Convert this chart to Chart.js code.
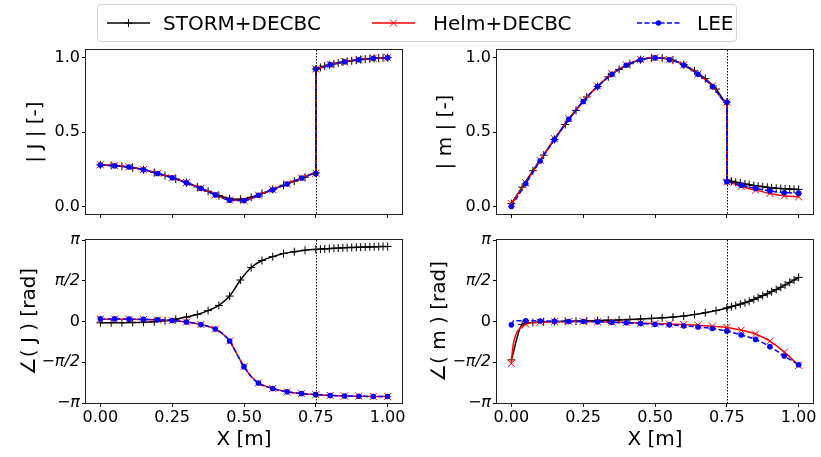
<!DOCTYPE html>
<html>
<head>
<meta charset="utf-8">
<script src="https://cdn.jsdelivr.net/npm/chart.js@4.4.1/dist/chart.umd.min.js"></script>
<style>
  body { margin: 0; background: #fff; width: 821px; height: 457px; position: relative; overflow: hidden; font-family: 'DejaVu Sans', sans-serif; }
  canvas { position: absolute; }
  #legendBox { position: absolute; left: 97px; top: 4px; width: 640px; height: 38px; box-sizing: border-box;
    border: 1px solid #d4d4d4; border-radius: 4px; background: rgba(255,255,255,0.8); }
  #legendHandles { position: absolute; left: 0; top: 0; }
  .legendText { position: absolute; top: 4px; height: 38px; line-height: 38px; font-size: 20px; color: #000; white-space: nowrap; }
</style>
</head>
<body>
<canvas id="magJ" width="410" height="188" style="left:0;top:38px"></canvas>
<canvas id="magM" width="411" height="188" style="left:410px;top:38px"></canvas>
<canvas id="phJ" width="410" height="229" style="left:0;top:228px"></canvas>
<canvas id="phM" width="411" height="229" style="left:410px;top:228px"></canvas>

<div id="legendBox"></div>
<svg id="legendHandles" width="821" height="46">
  <line x1="107" y1="23" x2="150" y2="23" stroke="#000" stroke-width="1.5"/>
  <path d="M128.5 19v8M124.5 23h8" stroke="#000" stroke-width="1"/>
  <line x1="372" y1="23" x2="415" y2="23" stroke="#f00" stroke-width="1.5"/>
  <path d="M390 19.5l7 7M397 19.5l-7 7" stroke="#f00" stroke-width="1"/>
  <line x1="637" y1="23" x2="680" y2="23" stroke="#00f" stroke-width="1.5" stroke-dasharray="5 2.5"/>
  <circle cx="658.5" cy="23" r="2.7" fill="#00f"/>
</svg>
<div class="legendText" style="left:163px">STORM+DECBC</div>
<div class="legendText" style="left:433px">Helm+DECBC</div>
<div class="legendText" style="left:697px">LEE</div>

<script>
// ---- axes ----
const xTicks = [0, 0.25, 0.5, 0.75, 1.0];
const xTickLabels = ['0.00', '0.25', '0.50', '0.75', '1.00'];
const magTicks = [0, 0.5, 1.0];
const magTickLabels = ['0.0', '0.5', '1.0'];
const phaseTicks = [-Math.PI, -Math.PI / 2, 0, Math.PI / 2, Math.PI];
const phaseTickLabels = ['\u2212\u03c0', '\u2212\u03c0/2', '0', '\u03c0/2', '\u03c0'];
const interfaceX = 0.75;

// ---- x positions ----
const xStorm = [0, 0.0375, 0.075, 0.1125, 0.15, 0.1875, 0.225, 0.2625, 0.3, 0.3375, 0.375, 0.4125, 0.45, 0.4875, 0.525, 0.5625, 0.6, 0.6375, 0.675, 0.7125, 0.75];
const xStormTail = [0.75, 0.766, 0.781, 0.797, 0.813, 0.828, 0.844, 0.859, 0.875, 0.891, 0.906, 0.922, 0.938, 0.953, 0.969, 0.984, 1.0];
const xCoarse = [0, 0.05, 0.1, 0.15, 0.2, 0.25, 0.3, 0.35, 0.4, 0.45, 0.5, 0.55, 0.6, 0.65, 0.7, 0.75];
const xCoarseTail = [0.75, 0.8, 0.85, 0.9, 0.95, 1.0];
const xPhaseJ = [0, 0.05, 0.1, 0.15, 0.2, 0.25, 0.3, 0.35, 0.4, 0.425, 0.45, 0.475, 0.5, 0.525, 0.55, 0.6, 0.65, 0.7, 0.75, 0.8, 0.85, 0.9, 0.95, 1.0];
const xPhaseMHelm = [0, 0.004, 0.01, 0.02, 0.03, 0.05, 0.1, 0.15, 0.2, 0.25, 0.3, 0.35, 0.4, 0.45, 0.5, 0.55, 0.6, 0.65, 0.7, 0.75, 0.8, 0.85, 0.9, 0.95, 1.0];
const xPhaseMLee = [0, 0.008, 0.05, 0.1, 0.15, 0.2, 0.25, 0.3, 0.35, 0.4, 0.45, 0.5, 0.55, 0.6, 0.65, 0.7, 0.75, 0.8, 0.85, 0.9, 0.95, 1.0];

// ---- |J| ----
const stormJmag = [0.280, 0.276, 0.270, 0.260, 0.247, 0.229, 0.208, 0.185, 0.160, 0.132, 0.103, 0.074, 0.053, 0.049, 0.062, 0.088, 0.115, 0.143, 0.170, 0.197, 0.225,
  0.922, 0.933, 0.942, 0.950, 0.957, 0.963, 0.969, 0.974, 0.978, 0.982, 0.986, 0.989, 0.992, 0.994, 0.996, 0.998, 0.999];
const helmJmag = [0.280, 0.275, 0.266, 0.248, 0.223, 0.194, 0.161, 0.123, 0.079, 0.044, 0.041, 0.077, 0.114, 0.152, 0.192, 0.223,
  0.923, 0.952, 0.972, 0.986, 0.995, 0.999];
const leeJmag = [0.278, 0.273, 0.265, 0.247, 0.222, 0.193, 0.160, 0.122, 0.078, 0.043, 0.040, 0.076, 0.113, 0.151, 0.191, 0.222,
  0.922, 0.951, 0.971, 0.985, 0.994, 0.998];

// ---- |m| ----
const stormMmag = [0.020, 0.130, 0.240, 0.345, 0.450, 0.550, 0.645, 0.735, 0.805, 0.870, 0.920, 0.958, 0.985, 0.997, 0.996, 0.982, 0.952, 0.910, 0.858, 0.788, 0.700,
  0.178, 0.170, 0.163, 0.157, 0.151, 0.146, 0.141, 0.137, 0.133, 0.129, 0.126, 0.123, 0.121, 0.119, 0.117, 0.116, 0.115];
const helmMmag = [0.020, 0.160, 0.310, 0.455, 0.590, 0.708, 0.808, 0.890, 0.950, 0.987, 0.998, 0.987, 0.950, 0.890, 0.808, 0.700,
  0.165, 0.135, 0.110, 0.088, 0.072, 0.065];
const leeMmag = [0.000, 0.155, 0.305, 0.450, 0.585, 0.705, 0.805, 0.887, 0.948, 0.985, 0.997, 0.985, 0.948, 0.887, 0.805, 0.700,
  0.165, 0.143, 0.122, 0.105, 0.093, 0.090];

// ---- angle(J) ----
const stormJph = [-0.05, -0.05, -0.045, -0.04, -0.03, -0.01, 0.03, 0.09, 0.17, 0.27, 0.42, 0.62, 0.98, 1.60, 2.08, 2.35, 2.50, 2.62, 2.69, 2.75, 2.78,
  2.79, 2.80, 2.81, 2.82, 2.83, 2.84, 2.85, 2.855, 2.86, 2.865, 2.87, 2.875, 2.88, 2.885, 2.89, 2.89];
const helmJph = [0.09, 0.09, 0.085, 0.075, 0.06, 0.035, -0.02, -0.12, -0.29, -0.47, -0.75, -1.25, -1.74, -2.12, -2.37, -2.58, -2.71, -2.78, -2.82, -2.85, -2.87, -2.88, -2.89, -2.89];
const leeJph = [0.10, 0.10, 0.09, 0.08, 0.065, 0.04, -0.02, -0.12, -0.29, -0.47, -0.75, -1.25, -1.74, -2.12, -2.37, -2.58, -2.71, -2.78, -2.82, -2.85, -2.87, -2.88, -2.89, -2.89];

// ---- angle(m) ----
const stormMph = [-1.48, -0.12, -0.04, -0.01, 0.00, 0.01, 0.015, 0.02, 0.04, 0.05, 0.06, 0.08, 0.10, 0.12, 0.14, 0.17, 0.21, 0.27, 0.34, 0.42, 0.52,
  0.57, 0.62, 0.67, 0.72, 0.78, 0.85, 0.92, 1.00, 1.07, 1.15, 1.23, 1.32, 1.41, 1.51, 1.60, 1.70];
const helmMph = [-1.62, -1.10, -0.70, -0.40, -0.25, -0.10, -0.03, -0.01, 0.00, 0.00, -0.01, -0.02, -0.04, -0.06, -0.08, -0.10, -0.12, -0.14, -0.18, -0.23,
  -0.33, -0.48, -0.76, -1.18, -1.69];
const leeMph = [-0.13, 0.03, 0.03, 0.02, 0.01, 0.00, 0.00, -0.01, -0.03, -0.05, -0.08, -0.11, -0.13, -0.17, -0.21, -0.27, -0.37,
  -0.52, -0.69, -0.97, -1.33, -1.67];

Chart.defaults.font.family = "'DejaVu Sans', sans-serif";
Chart.defaults.color = '#000';

const pts = (xs, ys) => xs.map((x, i) => ({ x: x, y: ys[i] }));
const onGrid = (x) => Math.abs(x * 20 - Math.round(x * 20)) < 1e-6;

function stormSet(xs, ys) {
    return {
        label: 'STORM+DECBC', data: pts(xs, ys), borderColor: '#000', borderWidth: 1.5,
        pointStyle: 'cross', pointRadius: 4, pointBorderWidth: 1, pointBorderColor: '#000',
        cubicInterpolationMode: 'monotone', order: 3
    };
}
function helmSet(xs, ys) {
    return {
        label: 'Helm+DECBC', data: pts(xs, ys), borderColor: '#ff0000', borderWidth: 1.5,
        pointStyle: 'crossRot', pointRadius: xs.map(x => onGrid(x) ? 5 : 0), pointBorderWidth: 1, pointBorderColor: '#ff0000',
        cubicInterpolationMode: 'monotone', order: 2
    };
}
function leeSet(xs, ys) {
    return {
        label: 'LEE', data: pts(xs, ys), borderColor: '#0000ff', borderWidth: 1.5, borderDash: [5, 2.5],
        pointStyle: 'circle', pointRadius: xs.map(x => onGrid(x) ? 2.8 : 0), pointBackgroundColor: '#0000ff', pointBorderWidth: 0,
        cubicInterpolationMode: 'monotone', order: 1
    };
}

// spines on all four sides and the dotted interface line
const framePlugin = {
    id: 'frame',
    afterDatasetsDraw(chart) {
        const { ctx, chartArea: a, scales: { x } } = chart;
        const px = Math.round(x.getPixelForValue(interfaceX)) + 0.5;
        ctx.save();
        ctx.strokeStyle = '#000';
        ctx.lineWidth = 1;
        ctx.setLineDash([1.5, 1.5]);
        ctx.beginPath();
        ctx.moveTo(px, a.top);
        ctx.lineTo(px, a.bottom);
        ctx.stroke();
        ctx.setLineDash([]);
        ctx.strokeStyle = '#222';
        ctx.strokeRect(Math.round(a.left) - 0.5, Math.round(a.top) - 0.5, Math.round(a.right - a.left) + 1, Math.round(a.bottom - a.top) + 1);
        ctx.restore();
    }
};

function makePanel(id, p) {
    const ctx = document.getElementById(id).getContext('2d');
    return new Chart(ctx, {
        type: 'line',
        data: { datasets: p.datasets },
        options: {
            responsive: false,
            animation: false,
            events: [],
            layout: { padding: { top: 12, right: p.padRight, left: 0, bottom: 0 } },
            plugins: { legend: { display: false }, tooltip: { enabled: false } },
            scales: {
                x: {
                    type: 'linear', min: -0.05, max: 1.05,
                    afterBuildTicks: s => { s.ticks = xTicks.map(v => ({ value: v })); },
                    afterFit: s => { s.height = p.xHeight; },
                    grid: { drawOnChartArea: false, drawTicks: true, tickLength: 4, color: '#000' },
                    border: { display: false },
                    ticks: {
                        display: p.showX, maxRotation: 0, padding: 1, font: { size: 16 },
                        callback: v => xTickLabels[xTicks.indexOf(v)]
                    },
                    title: { display: p.showX, text: 'X [m]', font: { size: 20 }, padding: { top: 0, bottom: 5 } }
                },
                y: {
                    type: 'linear', min: p.yMin, max: p.yMax,
                    afterBuildTicks: s => { s.ticks = p.yTicks.map(v => ({ value: v })); },
                    afterFit: s => { s.width = p.yWidth; },
                    grid: { drawOnChartArea: false, drawTicks: true, tickLength: 4, color: '#000' },
                    border: { display: false },
                    ticks: {
                        padding: 2,
                        font: c => ({ size: 16, style: (p.italicTicks && c.tick && c.tick.value !== 0) ? 'italic' : 'normal' }),
                        callback: v => p.yTickLabels[p.yTicks.indexOf(v)]
                    },
                    title: { display: true, text: p.yLabel, font: { size: 20 }, padding: { top: p.titlePad, bottom: 0 } }
                }
            }
        },
        plugins: [framePlugin]
    });
}

makePanel('magJ', {
    datasets: [stormSet(xStorm.concat(xStormTail), stormJmag), helmSet(xCoarse.concat(xCoarseTail), helmJmag), leeSet(xCoarse.concat(xCoarseTail), leeJmag)],
    yMin: -0.05, yMax: 1.05, yTicks: magTicks, yTickLabels: magTickLabels, yLabel: '| J | [-]',
    yWidth: 86, padRight: 8, xHeight: 12, showX: false, titlePad: 24, italicTicks: false
});
makePanel('magM', {
    datasets: [stormSet(xStorm.concat(xStormTail), stormMmag), helmSet(xCoarse.concat(xCoarseTail), helmMmag), leeSet(xCoarse.concat(xCoarseTail), leeMmag)],
    yMin: -0.05, yMax: 1.05, yTicks: magTicks, yTickLabels: magTickLabels, yLabel: '| m | [-]',
    yWidth: 87, padRight: 8, xHeight: 12, showX: false, titlePad: 24, italicTicks: false
});
makePanel('phJ', {
    datasets: [stormSet(xStorm.concat(xStormTail.slice(1)), stormJph), helmSet(xPhaseJ, helmJph), leeSet(xPhaseJ, leeJph)],
    yMin: -Math.PI, yMax: Math.PI, yTicks: phaseTicks, yTickLabels: phaseTickLabels, yLabel: '\u2220( J ) [rad]',
    yWidth: 86, padRight: 8, xHeight: 54, showX: true, titlePad: 18, italicTicks: true
});
makePanel('phM', {
    datasets: [stormSet(xStorm.concat(xStormTail.slice(1)), stormMph), helmSet(xPhaseMHelm, helmMph), leeSet(xPhaseMLee, leeMph)],
    yMin: -Math.PI, yMax: Math.PI, yTicks: phaseTicks, yTickLabels: phaseTickLabels, yLabel: '\u2220( m ) [rad]',
    yWidth: 87, padRight: 8, xHeight: 54, showX: true, titlePad: 18, italicTicks: true
});
</script>
</body>
</html>
